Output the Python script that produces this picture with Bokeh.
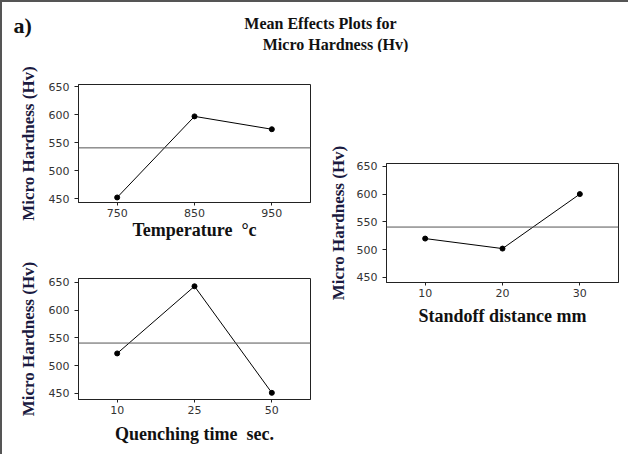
from bokeh.plotting import figure
from bokeh.models import FactorRange, Range1d, Span, Label, FixedTicker, Spacer
from bokeh.layouts import column, row
from bokeh.embed import file_html
from bokeh.resources import INLINE

# ---- data ----
temperature_levels = ["750", "850", "950"]
temperature_means = [452, 597, 574]

quench_levels = ["10", "25", "50"]
quench_means = [522, 643, 451]

standoff_levels = ["10", "20", "30"]
standoff_means = [520, 502, 600]

grand_mean = 540.7
y_ticks = [450, 500, 550, 600, 650]

title_line1 = "Mean Effects Plots for"
title_line2 = "Micro Hardness (Hv)"
panel_tag = "a)"
y_label = "Micro Hardness (Hv)"
x_label_temperature = "Temperature\u00a0 °c"
x_label_quench = "Quenching time\u00a0 sec."
x_label_standoff = "Standoff distance mm"

SERIF = "Liberation Serif"
SANS = "DejaVu Sans"


def make_panel(levels, means, xlabel, ylo, yhi, width, height,
               mb_left, mb_right, mb_top, mb_bottom, xl_standoff, yl_standoff):
    p = figure(x_range=FactorRange(factors=levels, range_padding=0),
               y_range=Range1d(ylo, yhi),
               width=width, height=height,
               min_border_left=mb_left, min_border_right=mb_right,
               min_border_top=mb_top, min_border_bottom=mb_bottom,
               output_backend="svg", toolbar_location=None)
    p.xgrid.visible = False
    p.ygrid.visible = False
    p.outline_line_color = "#222222"
    p.outline_line_width = 1
    p.background_fill_color = "white"
    p.border_fill_color = "white"

    p.yaxis.ticker = FixedTicker(ticks=y_ticks)
    p.yaxis.axis_label = y_label
    p.yaxis.axis_label_text_font = SERIF
    p.yaxis.axis_label_text_font_style = "bold"
    p.yaxis.axis_label_text_font_size = "17px"
    p.yaxis.axis_label_text_color = "#1a1a40"
    p.yaxis.axis_label_standoff = yl_standoff
    p.yaxis.major_tick_out = 4
    p.yaxis.major_tick_in = 0
    p.yaxis.minor_tick_out = 0
    p.yaxis.minor_tick_in = 0

    p.xaxis.axis_label = xlabel
    p.xaxis.axis_label_text_font = SERIF
    p.xaxis.axis_label_text_font_style = "bold"
    p.xaxis.axis_label_text_font_size = "18px"
    p.xaxis.axis_label_text_color = "#111111"
    p.xaxis.axis_label_standoff = xl_standoff
    p.xaxis.major_tick_out = 3
    p.xaxis.major_tick_in = 0
    p.xaxis.major_label_standoff = 3

    for ax in (p.xaxis, p.yaxis):
        ax.major_label_text_font = SANS
        ax.major_label_text_font_size = "11px"
        ax.major_label_text_color = "#333333"
        ax.axis_line_color = "#222222"
        ax.major_tick_line_color = "#222222"

    p.add_layout(Span(location=grand_mean, dimension="width",
                      line_color="#555555", line_width=1))
    p.line(levels, means, line_color="black", line_width=1)
    p.scatter(levels, means, size=5, color="black")
    return p


# header with panel tag and title
header = figure(width=626, height=50, x_range=Range1d(0, 626), y_range=Range1d(0, 50),
                min_border=0, output_backend="svg", toolbar_location=None)
header.axis.visible = False
header.xgrid.visible = False
header.ygrid.visible = False
header.outline_line_color = None
header.add_layout(Label(x=11, y=27, text=panel_tag, text_font=SERIF, text_font_style="bold",
                        text_font_size="22px", text_color="#111111", text_baseline="alphabetic"))
header.add_layout(Label(x=318, y=29, text=title_line1, text_font=SERIF, text_font_style="bold",
                        text_font_size="16px", text_color="#111111", text_align="center",
                        text_baseline="alphabetic"))
header.add_layout(Label(x=333, y=8, text=title_line2, text_font=SERIF, text_font_style="bold",
                        text_font_size="16px", text_color="#111111", text_align="center",
                        text_baseline="alphabetic"))

p1 = make_panel(temperature_levels, temperature_means, x_label_temperature, 443, 654,
                320, 195, 76, 11, 32, 45, 0, 8)
p2 = make_panel(quench_levels, quench_means, x_label_quench, 439, 657,
                320, 207, 75, 12, 31, 55, 7, 8)
p3 = make_panel(standoff_levels, standoff_means, x_label_standoff, 441, 655,
                306, 200, 64, 10, 31, 50, 6, 6)

left_col = column(p1, p2)
right_col = column(Spacer(width=306, height=80), p3)
root = column(header, row(left_col, right_col),
              styles={"border-left": "2px solid #555555", "border-top": "2px solid #555555"})

open("out.html", "w").write(file_html(root, INLINE))
